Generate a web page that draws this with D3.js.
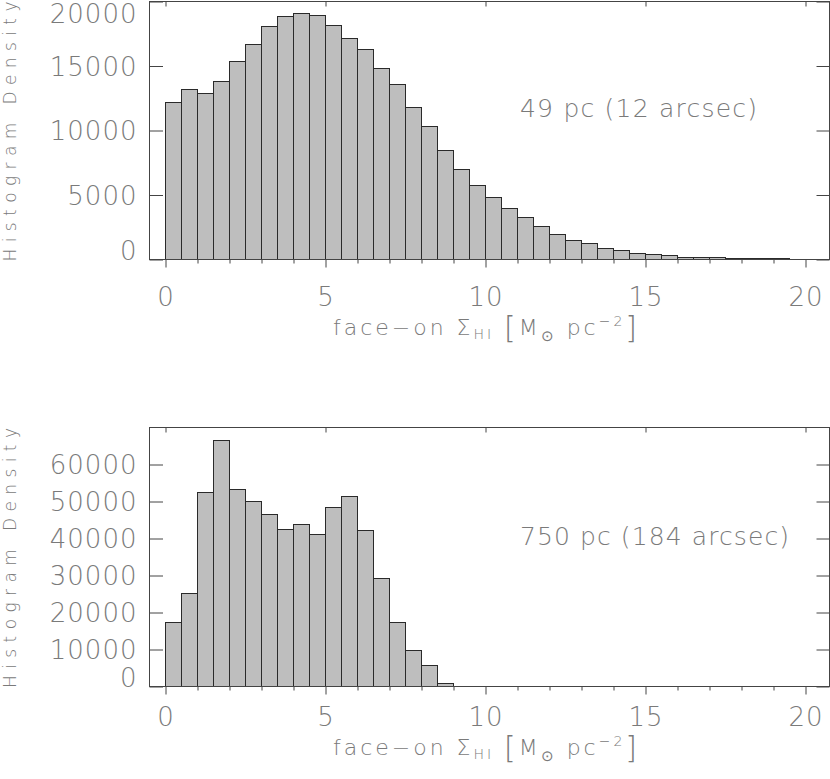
<!DOCTYPE html>
<html>
<head>
<meta charset="utf-8">
<script src="https://cdn.jsdelivr.net/npm/d3@7/dist/d3.min.js"></script>
<style>
    body { margin: 0; background: #fff; }
    svg { display: block; }
    text { font-family: "DejaVu Sans", sans-serif; font-weight: 200; }
</style>
</head>
<body>
<svg id="chart" width="830" height="779"></svg>
<script>
// Left edge of each 0.5-wide histogram bin
var binEdges = [0, 0.5, 1, 1.5, 2, 2.5, 3, 3.5, 4, 4.5, 5, 5.5, 6, 6.5, 7, 7.5, 8, 8.5, 9, 9.5,
    10, 10.5, 11, 11.5, 12, 12.5, 13, 13.5, 14, 14.5, 15, 15.5, 16, 16.5, 17, 17.5, 18, 18.5, 19, 19.5];

// 49 pc (12 arcsec) resolution
var fineCounts = [12150, 13200, 12850, 13800, 15350, 16650, 18100, 18800, 19100, 18950,
    18150, 17150, 16250, 14800, 13600, 11800, 10300, 8450, 6950, 5700,
    4800, 3950, 3250, 2550, 1950, 1480, 1220, 880, 670, 490,
    360, 300, 160, 170, 140, 100, 80, 70, 50, 20];

// 750 pc (184 arcsec) resolution
var coarseCounts = [17300, 25100, 52400, 66500, 53300, 49900, 46600, 42400, 43700, 41100,
    48500, 51300, 42200, 29100, 17400, 9800, 5800, 850];

var xMajorTicks = [0, 5, 10, 15, 20];
var xMinorTicks = [1, 2, 3, 4, 6, 7, 8, 9, 11, 12, 13, 14, 16, 17, 18, 19];
var fineYTicks = [0, 5000, 10000, 15000, 20000];
var coarseYTicks = [0, 10000, 20000, 30000, 40000, 50000, 60000];

var fineNote = '49 pc (12 arcsec)';
var coarseNote = '750 pc (184 arcsec)';
var yTitle = 'Histogram Density';

var textColor = '#7a7a7a';
var lineColor = '#444';

var svg = d3.select('svg#chart');

var plotLeft = 149.5;
var plotRight = 829.5;

var x = d3.scaleLinear().domain([-0.5, 20.75]).range([plotLeft, plotRight]);

var panels = [
    {counts: fineCounts, yMax: 20000, yTicks: fineYTicks, top: 1.5, bottom: 259.5,
        labelY: 306, titleY: 335, note: fineNote, noteY: 117, noteLength: 237},
    {counts: coarseCounts, yMax: 70000, yTicks: coarseYTicks, top: 427.5, bottom: 686.5,
        labelY: 726, titleY: 755, note: coarseNote, noteY: 545, noteLength: 269}
];

/**
 * Snap a coordinate to the pixel grid for crisp 1px lines.
 */
function crisp(v) {
    return Math.round(v - 0.5) + 0.5;
}

/**
 * Draw the x axis title with sub/superscripts.
 */
function drawXTitle(g, yPos) {
    var t = g.append('text')
        .attr('x', 485)
        .attr('y', yPos)
        .attr('text-anchor', 'middle')
        .attr('font-size', 22)
        .attr('fill', textColor)
        .attr('textLength', 304)
        .attr('lengthAdjust', 'spacing');
    t.append('tspan').text('face\u2212on \u03A3');
    t.append('tspan').attr('font-size', 14).attr('dy', 4).text('HI');
    t.append('tspan').attr('dy', -4).text(' ');
    t.append('tspan').attr('font-size', 30).attr('dy', 3).text('[');
    t.append('tspan').attr('dy', -3).text('M');
    t.append('tspan').attr('font-size', 15).attr('dy', 6).text('\u2299');
    t.append('tspan').attr('dy', -6).text(' pc');
    t.append('tspan').attr('font-size', 14).attr('dy', -9).text('\u22122');
    t.append('tspan').attr('font-size', 30).attr('dy', 12).text(']');
}

/**
 * Draw one histogram panel.
 */
function drawPanel(p) {
    var y = d3.scaleLinear().domain([0, p.yMax]).range([p.bottom, p.top]);
    var g = svg.append('g');

    // Bars
    g.selectAll('rect.bar')
        .data(p.counts)
        .enter().append('rect')
            .attr('class', 'bar')
            .attr('x', function(d, i) { return crisp(x(binEdges[i])); })
            .attr('width', function(d, i) { return crisp(x(binEdges[i] + 0.5)) - crisp(x(binEdges[i])); })
            .attr('y', function(d) { return crisp(y(d)); })
            .attr('height', function(d) { return p.bottom - crisp(y(d)); })
            .attr('fill', '#bebebe')
            .attr('stroke', '#2a2a2a')
            .attr('stroke-width', 1);

    // Frame
    g.append('rect')
        .attr('x', plotLeft)
        .attr('y', p.top)
        .attr('width', plotRight - plotLeft)
        .attr('height', p.bottom - p.top)
        .attr('fill', 'none')
        .attr('stroke', lineColor);

    // Left axis: inward ticks, labels kept inside the axis range
    var left = g.append('g')
        .attr('transform', 'translate(' + plotLeft + ',0)')
        .attr('color', lineColor)
        .call(d3.axisLeft(y).tickValues(p.yTicks).tickSize(-13.5).tickPadding(12).tickFormat(d3.format('d')));
    left.select('.domain').remove();
    left.selectAll('.tick text')
        .attr('fill', textColor)
        .attr('font-size', 26)
        .attr('letter-spacing', 1)
        .attr('font-family', null)
        .attr('dy', '0.36em')
        .attr('y', function(d) {
            var c = Math.max(p.top + 12, Math.min(p.bottom - 9.5, y(d)));
            return c - y(d);
        });

    // Right axis
    var right = g.append('g')
        .attr('transform', 'translate(' + plotRight + ',0)')
        .attr('color', lineColor)
        .call(d3.axisRight(y).tickValues(p.yTicks).tickSize(-13).tickFormat(''));
    right.select('.domain').remove();

    // Bottom axis, major and minor ticks point outward
    var bottom = g.append('g')
        .attr('transform', 'translate(0,' + p.bottom + ')')
        .attr('color', lineColor)
        .call(d3.axisBottom(x).tickValues(xMajorTicks).tickSize(8).tickFormat(d3.format('d')));
    bottom.select('.domain').remove();
    bottom.selectAll('.tick text')
        .attr('fill', textColor)
        .attr('font-size', 26)
        .attr('letter-spacing', 1)
        .attr('font-family', null)
        .attr('dy', 0)
        .attr('y', p.labelY - p.bottom);

    var minor = g.append('g')
        .attr('transform', 'translate(0,' + p.bottom + ')')
        .attr('color', lineColor)
        .call(d3.axisBottom(x).tickValues(xMinorTicks).tickSize(4).tickFormat(''));
    minor.select('.domain').remove();

    // Top axis, short inward ticks
    var top = g.append('g')
        .attr('transform', 'translate(0,' + p.top + ')')
        .attr('color', lineColor)
        .call(d3.axisTop(x).tickValues(xMajorTicks).tickSize(-5).tickFormat(''));
    top.select('.domain').remove();

    // Y title
    g.append('text')
        .attr('transform', 'translate(16,' + ((p.top + p.bottom) / 2 + 1) + ') rotate(-90)')
        .attr('text-anchor', 'middle')
        .attr('font-size', 17)
        .attr('fill', textColor)
        .attr('textLength', 260)
        .attr('lengthAdjust', 'spacing')
        .text(yTitle);

    // X title
    drawXTitle(g, p.titleY);

    // Resolution note
    g.append('text')
        .attr('x', 520)
        .attr('y', p.noteY)
        .attr('font-size', 25)
        .attr('fill', textColor)
        .attr('textLength', p.noteLength)
        .attr('lengthAdjust', 'spacing')
        .text(p.note);
}

panels.forEach(drawPanel);
</script>
</body>
</html>
